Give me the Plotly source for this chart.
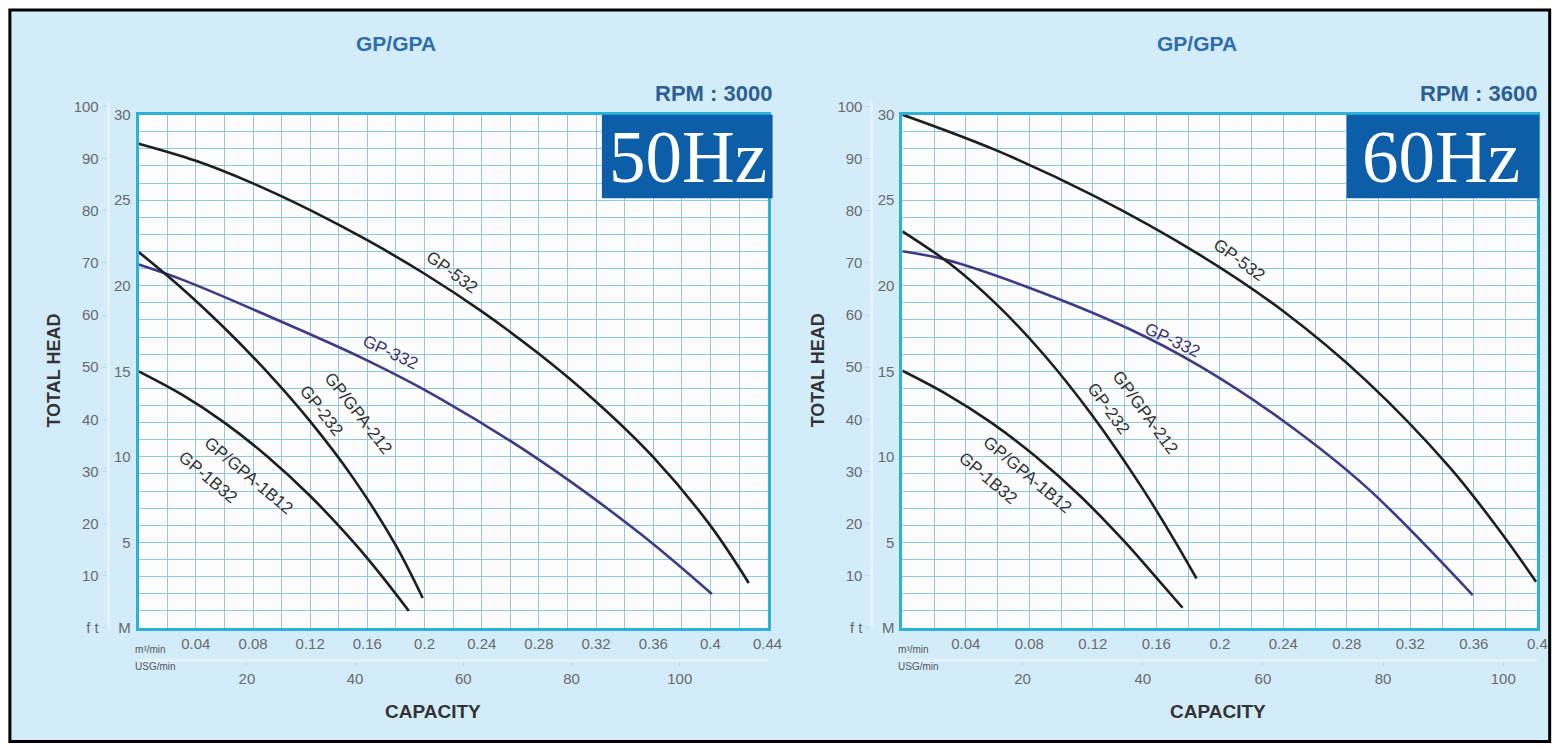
import plotly.graph_objects as go

W, H = 1567, 750

# ---------------- data (capacity m3/min, head m) ----------------
l532_x = [0, 0.04, 0.08, 0.12, 0.16, 0.2, 0.24, 0.28, 0.32, 0.36, 0.4, 0.4268]
l532_h = [28.3, 27.3, 25.98, 24.42, 22.66, 20.70, 18.50, 16.02, 13.22, 9.98, 5.98, 2.63]
l332_x = [0, 0.03, 0.088, 0.158, 0.2115, 0.281, 0.351, 0.401]
l332_h = [21.24, 20.37, 18.33, 15.71, 13.38, 9.78, 5.5, 1.98]
l232_x = [0, 0.03, 0.06, 0.09, 0.12, 0.15, 0.18, 0.1987]
l232_h = [21.97, 19.87, 17.53, 14.95, 12.07, 8.77, 4.81, 1.75]
l1b_x = [0, 0.03, 0.06, 0.09, 0.12, 0.15, 0.17, 0.189]
l1b_h = [15.0, 13.65, 12.0, 10.02, 7.71, 5.04, 3.04, 0.99]

r532_x = [0, 0.0585, 0.1214, 0.1874, 0.2398, 0.2923, 0.3447, 0.3761, 0.3992]
r532_h = [30.0, 27.94, 25.22, 21.8, 18.52, 14.44, 9.4, 5.71, 2.70]
r332_x = [0, 0.027, 0.0794, 0.1423, 0.1874, 0.2398, 0.2923, 0.3593]
r332_h = [22.02, 21.53, 19.9, 17.5, 15.3, 12.11, 8.23, 1.92]
r232_x = [0, 0.03, 0.06, 0.09, 0.12, 0.15, 0.17, 0.1853]
r232_h = [23.18, 21.28, 18.85, 15.88, 12.37, 8.33, 5.34, 2.89]
r1b_x = [0, 0.028, 0.056, 0.084, 0.112, 0.14, 0.159, 0.1765]
r1b_h = [15.03, 13.65, 12.0, 10.02, 7.71, 5.04, 3.04, 1.18]

cap_ticks_l = [0.04, 0.08, 0.12, 0.16, 0.2, 0.24, 0.28, 0.32, 0.36, 0.4, 0.44]
cap_text_l = ["0.04", "0.08", "0.12", "0.16", "0.2", "0.24", "0.28", "0.32", "0.36", "0.4", "0.44"]
cap_ticks_r = [0.04, 0.08, 0.12, 0.16, 0.2, 0.24, 0.28, 0.32, 0.36, 0.4]
cap_text_r = ["0.04", "0.08", "0.12", "0.16", "0.2", "0.24", "0.28", "0.32", "0.36", "0.4"]
m_ticks = [0, 5, 10, 15, 20, 25, 30]
m_text = ["M", "5", "10", "15", "20", "25", "30"]
ft_ticks = [0, 10, 20, 30, 40, 50, 60, 70, 80, 90, 100]
ft_text = ["f t", "10", "20", "30", "40", "50", "60", "70", "80", "90", "100"]
usg_ticks = [20, 40, 60, 80, 100]

# labels: (text, x, head, angle)
labels_l = [("GP-532", 0.2195, 20.8, 36), ("GP-332", 0.1762, 16.1, 25),
            ("GP/GPA-212", 0.1536, 12.52, 52), ("GP-232", 0.1277, 12.7, 52),
            ("GP/GPA-1B12", 0.0768, 8.91, 40), ("GP-1B32", 0.0486, 8.8, 40)]
labels_r = [("GP-532", 0.2126, 21.5, 36), ("GP-332", 0.1704, 16.8, 25),
            ("GP/GPA-212", 0.1528, 12.58, 54), ("GP-232", 0.1296, 12.81, 54),
            ("GP/GPA-1B12", 0.0786, 8.97, 40), ("GP-1B32", 0.0541, 8.74, 40)]

M3_TO_USG = 264.17
M_TO_FT = 3.2808

# ---------------- geometry (target pixels -> paper fractions) ----------------
# the photographed page comes out slightly scaled; compensate so marks land on target pixels
SX, OX = 0.9921, -1.9
SY, OY = 0.9806, 7.0

def px(x):
    return min(max(((x - OX) / SX) / W, 0.0), 1.0)

def py(y):
    return min(max(1 - ((y - OY) / SY) / H, 0.0), 1.0)

plot_top, plot_bot = 113, 628
m_per_px = 30 / (plot_bot - plot_top)
ft_top = 100
L = dict(x0=137, x1=767, xmax=0.44, ftx=106)
R = dict(x0=902, x1=1538, xmax=0.40, ftx=871)

BLACK = "#1e1e1e"
PURPLE = "#3f3a86"
GRID = "#92c6e2"
EDGE = "#2cb2d6"
TICKC = "#6a6a6a"

fig = go.Figure()

def add_curves(xa, ya, series):
    for xs, hs, col in series:
        fig.add_trace(go.Scatter(x=xs, y=hs, xaxis=xa, yaxis=ya, mode="lines",
                                 line=dict(color=col, width=2.6, shape="spline", smoothing=1.0),
                                 showlegend=False, hoverinfo="skip"))

add_curves("x", "y", [(l532_x, l532_h, BLACK), (l332_x, l332_h, PURPLE),
                      (l232_x, l232_h, BLACK), (l1b_x, l1b_h, BLACK)])
add_curves("x2", "y2", [(r532_x, r532_h, BLACK), (r332_x, r332_h, PURPLE),
                        (r232_x, r232_h, BLACK), (r1b_x, r1b_h, BLACK)])
# invisible traces so the secondary (ft / USG) axes get drawn
fig.add_trace(go.Scatter(x=[20], y=[10], xaxis="x3", yaxis="y3", mode="markers",
                         marker=dict(size=1, opacity=0), showlegend=False, hoverinfo="skip"))
fig.add_trace(go.Scatter(x=[20], y=[10], xaxis="x4", yaxis="y4", mode="markers",
                         marker=dict(size=1, opacity=0), showlegend=False, hoverinfo="skip"))

tickfont = dict(family="Liberation Sans, Arial", size=15, color=TICKC)

def main_x(g, ticks, texts, anchor):
    return dict(domain=[px(g["x0"]), px(g["x1"])], range=[0, g["xmax"]], anchor=anchor,
                tickmode="array", tickvals=ticks, ticktext=texts, tickfont=tickfont,
                showgrid=True, gridcolor=GRID, gridwidth=1.3,
                minor=dict(dtick=0.02, tick0=0, showgrid=True, gridcolor=GRID, gridwidth=1.3),
                showline=True, linecolor=EDGE, linewidth=3, mirror=True,
                ticks="", zeroline=False, fixedrange=True)

def main_y(anchor):
    return dict(domain=[py(plot_bot), py(plot_top)], range=[0, 30], anchor=anchor,
                tickmode="array", tickvals=m_ticks, ticktext=m_text, tickfont=tickfont,
                showgrid=True, gridcolor=GRID, gridwidth=1.3,
                minor=dict(dtick=1, tick0=0, showgrid=True, gridcolor=GRID, gridwidth=1.3),
                showline=True, linecolor=EDGE, linewidth=3, mirror=True,
                ticks="", zeroline=False, fixedrange=True, ticklabelstandoff=2)

def ft_y(g):
    return dict(domain=[py(plot_bot), py(ft_top)],
                range=[0, (plot_bot - ft_top) * m_per_px * M_TO_FT],
                anchor="free", position=px(g["ftx"]), side="left",
                tickmode="array", tickvals=ft_ticks, ticktext=ft_text, tickfont=tickfont,
                showgrid=False, zeroline=False, showline=True, linecolor="#e4f2fb", linewidth=3,
                ticks="outside", ticklen=5, tickcolor="#b9d9ea", fixedrange=True)

def usg_x(g):
    return dict(domain=[px(g["x0"]), px(g["x1"])], range=[0, g["xmax"] * M3_TO_USG],
                anchor="free", position=py(660), side="bottom",
                tickmode="array", tickvals=usg_ticks, tickfont=tickfont,
                showgrid=False, zeroline=False, showline=True, linecolor="#e4f2fb", linewidth=3,
                ticks="outside", ticklen=4, tickcolor="#b9d9ea", fixedrange=True)

layout = dict(
    width=W, height=H, autosize=False, margin=dict(l=0, r=0, t=0, b=0, pad=0),
    paper_bgcolor="white", plot_bgcolor="rgba(0,0,0,0)",
    xaxis=main_x(L, cap_ticks_l, cap_text_l, "y"),
    yaxis=main_y("x"),
    xaxis2=main_x(R, cap_ticks_r, cap_text_r, "y2"),
    yaxis2=main_y("x2"),
    xaxis3=usg_x(L), yaxis3=ft_y(L),
    xaxis4=usg_x(R), yaxis4=ft_y(R),
    font=dict(family="Liberation Sans, Arial"),
)
fig.update_layout(**layout)

shapes = [
    dict(type="rect", xref="paper", yref="paper", x0=px(8), x1=0.9985, y0=py(742), y1=py(8),
         fillcolor="#d3ecfa", line=dict(color="black", width=3), layer="below"),
]
for g in (L, R):
    shapes.append(dict(type="rect", xref="paper", yref="paper", x0=px(g["x0"]), x1=px(g["x1"]),
                       y0=py(plot_bot), y1=py(plot_top), fillcolor="#fdfcfc", line=dict(width=0),
                       layer="below"))
# Hz boxes
shapes.append(dict(type="rect", xref="paper", yref="paper", x0=px(601), x1=px(772), y0=py(197), y1=py(113),
                   fillcolor="#0d5ea8", line=dict(width=0), layer="above"))
shapes.append(dict(type="rect", xref="paper", yref="paper", x0=px(1347), x1=px(1540), y0=py(197), y1=py(113),
                   fillcolor="#0d5ea8", line=dict(width=0), layer="above"))
fig.update_layout(shapes=shapes)

ann = []
def txt(t, x, y, size, color, bold=False, xanchor="center", angle=0, family="Liberation Sans, Arial"):
    ann.append(dict(text=("<b>%s</b>" % t) if bold else t, x=px(x), y=py(y), xref="paper", yref="paper",
                    showarrow=False, xanchor=xanchor, yanchor="middle", textangle=angle,
                    font=dict(size=size, color=color, family=family)))

TITLEC = "#2f6ea8"
txt("GP/GPA", 395, 42, 21, TITLEC, bold=True)
txt("GP/GPA", 1197, 42, 21, TITLEC, bold=True)
txt("RPM : 3000", 773, 92, 22, "#2c5f93", bold=True, xanchor="right")
txt("RPM : 3600", 1540, 92, 22, "#2c5f93", bold=True, xanchor="right")
txt("50Hz", 687, 156, 73, "white", family="Liberation Serif, Times New Roman")
txt("60Hz", 1442, 156, 73, "white", family="Liberation Serif, Times New Roman")
txt("TOTAL HEAD", 52, 370, 18, "#333333", bold=True, angle=-90)
txt("TOTAL HEAD", 817, 370, 18, "#333333", bold=True, angle=-90)
txt("CAPACITY", 432, 712, 19, "#333333", bold=True)
txt("CAPACITY", 1218, 712, 19, "#333333", bold=True)
txt("m³/min", 131, 650, 10, "#555555", xanchor="left")
txt("USG/min", 131, 667, 10, "#555555", xanchor="left")
txt("m³/min", 896, 650, 10, "#555555", xanchor="left")
txt("USG/min", 896, 667, 10, "#555555", xanchor="left")

for labs, xr, yr in ((labels_l, "x", "y"), (labels_r, "x2", "y2")):
    for t, x, h, a in labs:
        ann.append(dict(text=t, x=x, y=h, xref=xr, yref=yr, showarrow=False, textangle=a,
                        font=dict(size=17, color="#333333" if "332" not in t else "#3a3570",
                                  family="Liberation Sans, Arial")))
fig.update_layout(annotations=ann)

fig.write_html(
    "out.html",
    config={"displayModeBar": False},
    post_script=(
        "document.documentElement.style.margin='0';document.documentElement.style.padding='0';"
        "document.body.style.margin='0';document.body.style.padding='0';"
        "document.documentElement.style.overflow='hidden';document.body.style.overflow='hidden';"
        "var gd=document.getElementById('{plot_id}');"
        "gd.style.position='fixed';gd.style.left='0px';gd.style.top='0px';"
    ),
)
